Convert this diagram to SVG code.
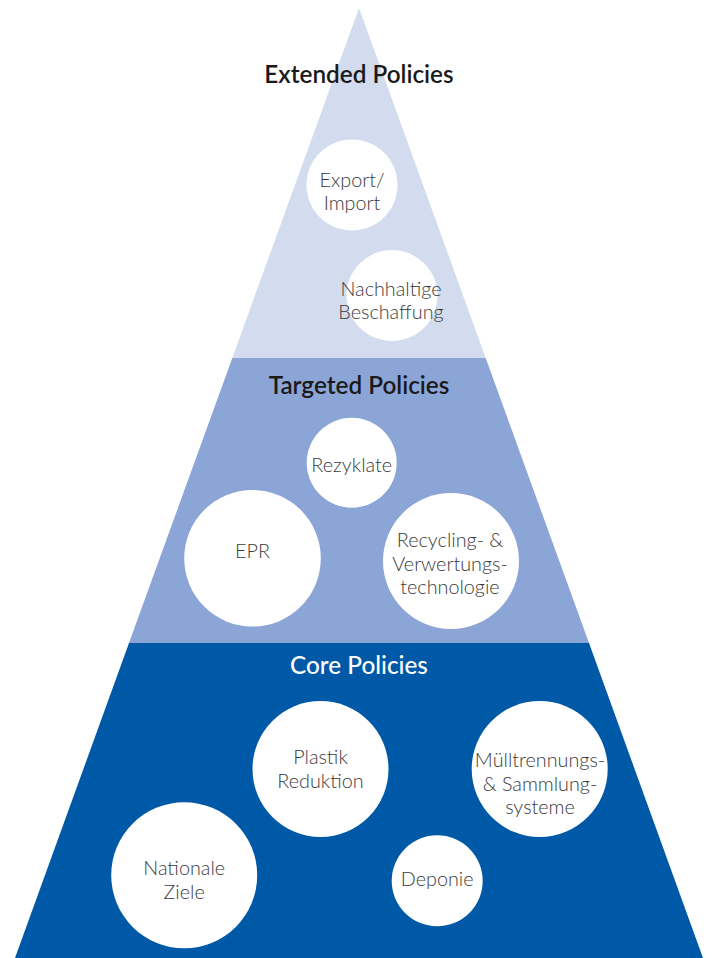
<svg xmlns="http://www.w3.org/2000/svg" width="713" height="958" viewBox="0 0 713 958">
<style>
.h{font-family:Lato,"Open Sans","Liberation Sans",sans-serif;font-size:24.3px;font-weight:600;fill:#1a1a1a;text-anchor:middle}
.hw{fill:#ffffff;font-weight:500}
.c{fill:#ffffff}
.t{font-family:Lato,"Open Sans","Liberation Sans",sans-serif;font-size:19.8px;font-weight:300;fill:#3a3a3a;text-anchor:middle}
</style>
<rect width="713" height="958" fill="#ffffff"/>
<g id="bands">
<polygon id="band-extended" points="359,8 485.7,358 232.3,358" fill="#d3dcef"/>
<polygon id="band-targeted" points="232.3,358 485.7,358 589,643 129,643" fill="#8ca5d7"/>
<polygon id="band-core" points="129,643 589,643 703,958 15,958" fill="#0059a7"/>
</g>
<g id="headings">
<text class="h" x="359" y="82.5">Extended Policies</text>
<text class="h" x="359" y="394">Targeted Policies</text>
<text class="h hw" x="359" y="674">Core Policies</text>
</g>
<g id="connectors"></g>
<g id="node-export">
<circle class="c" cx="352" cy="185" r="45.5"/>
<text class="t" x="352" y="187">Export/</text>
<text class="t" x="352" y="210">Import</text>
</g>
<g id="node-nachhaltig">
<circle class="c" cx="392" cy="295.5" r="45.5"/>
<text class="t" x="391" y="296">Nachhaltige</text>
<text class="t" x="391" y="319">Beschaffung</text>
</g>
<g id="node-rezyklate">
<circle class="c" cx="351.7" cy="462.7" r="45"/>
<text class="t" x="351.7" y="472">Rezyklate</text>
</g>
<g id="node-epr">
<circle class="c" cx="252.5" cy="558.3" r="68.3"/>
<text class="t" x="252.5" y="558">EPR</text>
</g>
<g id="node-recycling">
<circle class="c" cx="451" cy="561" r="68"/>
<text class="t" x="450" y="547">Recycling- &amp;</text>
<text class="t" x="450" y="571">Verwertungs-</text>
<text class="t" x="450" y="594">technologie</text>
</g>
<g id="node-plastik">
<circle class="c" cx="320.5" cy="769" r="68"/>
<text class="t" x="320.5" y="764">Plastik</text>
<text class="t" x="320.5" y="787.5">Reduktion</text>
</g>
<g id="node-muell">
<circle class="c" cx="539.7" cy="769" r="68"/>
<text class="t" x="540" y="767">Mülltrennungs-</text>
<text class="t" x="540" y="790.5">&amp; Sammlung-</text>
<text class="t" x="540" y="814">systeme</text>
</g>
<g id="node-nationale">
<circle class="c" cx="184.2" cy="875.3" r="73"/>
<text class="t" x="184.2" y="875">Nationale</text>
<text class="t" x="184.2" y="899">Ziele</text>
</g>
<g id="node-deponie">
<circle class="c" cx="437.2" cy="880.8" r="45.5"/>
<text class="t" x="437.2" y="886">Deponie</text>
</g>
</svg>
